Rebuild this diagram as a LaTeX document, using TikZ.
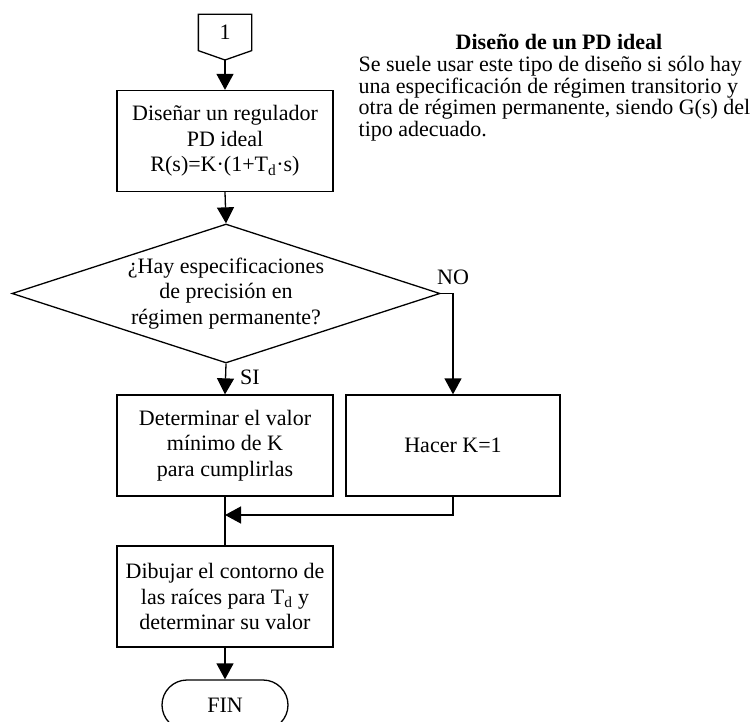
\documentclass[tikz,border=0pt]{standalone}
\usepackage{fontspec}
\setmainfont{Liberation Serif}
\usetikzlibrary{arrows.meta,shapes.geometric}
\begin{document}
\begin{tikzpicture}[x=1pt,y=-1pt,line width=1.3pt,
  txt/.style={font=\fontsize{22}{25.5}\selectfont},
  ptxt/.style={font=\fontsize{22}{21.5}\selectfont,inner sep=0pt},
  box/.style={txt,draw,rectangle,minimum width=216pt,minimum height=101pt,align=center,inner sep=0pt},
  arr/.style={-{Triangle[width=17pt,length=16pt]}}]
\useasboundingbox (0,0) rectangle (755,722);
% connector 1
\node[txt,minimum width=52pt,minimum height=35pt,inner sep=0pt] (c1) at (225,32.5) {1};
\coordinate (c1tip) at (225,60);
\draw (c1.north west) -- (c1.north east) -- (c1.south east) -- (c1tip) -- (c1.south west) -- cycle;
% boxes
\node[box] (b1) at (225,141) {Diseñar un regulador\\PD ideal\\R(s)=K·(1+T\textsubscript{d}·s)};
\node[txt,draw,diamond,aspect=3.08,minimum width=428pt,minimum height=139pt,inner sep=0pt,align=center] (dia) at (226,293.5)
  {¿Hay especificaciones\\de precisión en\\régimen permanente?};
\node[box] (det) at (225,445.5) {Determinar el valor\\mínimo de K\\para cumplirlas};
\node[box,minimum width=214pt] (hac) at (453,445.5) {Hacer K=1};
\node[box] (dib) at (225,596.5) {Dibujar el contorno de\\las raíces para T\textsubscript{d} y\\determinar su valor};
\begin{scope}
\clip (0,0) rectangle (755,722);
\node[txt,draw,rectangle,rounded corners=25pt,minimum width=126pt,minimum height=50pt,inner sep=0pt] (fin) at (225,705) {FIN};
\end{scope}
% labels
\node[txt,inner sep=0pt] (no) at (453,277) {NO};
\node[txt,inner sep=0pt] (si) at (250,377) {SI};
% connectors
\draw[arr] (c1tip) -- (b1.north);
\draw[arr] (b1.south) -- (dia.north);
\draw[arr] (dia.south) -- (det.north);
\draw[arr] (dia.east) -| (hac.north);
\coordinate (m) at (225,515);
\draw[arr] (hac.south) |- (m);
\draw (det.south) -- (dib.north);
\draw[arr] (dib.south) -- (fin.north);
% side text
\node[ptxt,anchor=base,font=\fontsize{22}{21.5}\selectfont\bfseries] (t0) at (559,50) {Diseño de un PD ideal};
\node[ptxt,anchor=base west] (t1) at (358,72) {Se suele usar este tipo de diseño si sólo hay};
\node[ptxt,anchor=base west] (t2) at (358,93.5) {una especificación de régimen transitorio y};
\node[ptxt,anchor=base west] (t3) at (358,115) {otra de régimen permanente, siendo G(s) del};
\node[ptxt,anchor=base west] (t4) at (358,136.5) {tipo adecuado.};
\end{tikzpicture}
\end{document}
